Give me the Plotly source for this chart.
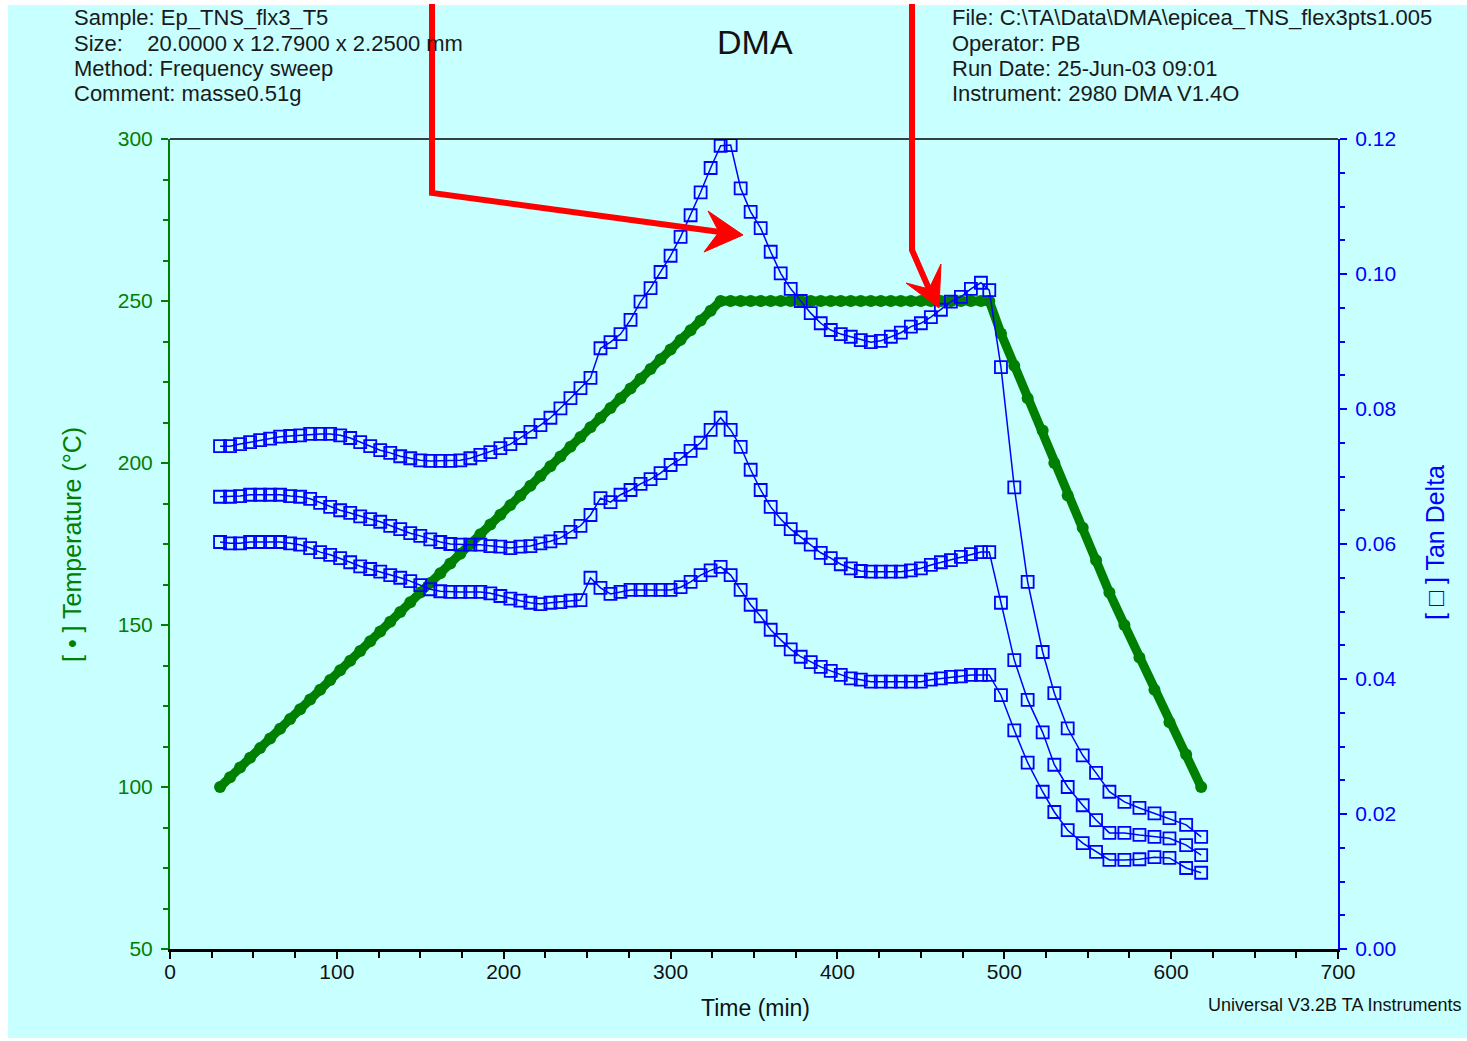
import plotly.graph_objects as go

# ---------------- data ----------------
time_min = [30, 36, 42, 48, 54, 60, 66, 72, 78, 84,
            90, 96, 102, 108, 114, 120, 126, 132, 138, 144,
            150, 156, 162, 168, 174, 180, 186, 192, 198, 204,
            210, 216, 222, 228, 234, 240, 246, 252, 258, 264,
            270, 276, 282, 288, 294, 300, 306, 312, 318, 324, 330,
            336, 342, 348, 354, 360, 366, 372, 378, 384, 390,
            396, 402, 408, 414, 420, 426, 432, 438, 444, 450,
            456, 462, 468, 474, 480, 486,
            491,
            498, 506, 514, 523, 530, 538, 547, 555, 563, 572, 581, 590, 599, 609, 618]

temperature_c = [100, 103, 106, 109, 112, 115, 118, 121, 124, 127,
                 130, 133, 136, 139, 142, 145, 148, 151, 154, 157,
                 160, 163, 166, 169, 172, 175, 178, 181, 184, 187,
                 190, 193, 196, 199, 202, 205, 208, 211, 214, 217,
                 220, 223, 226, 229, 232, 235, 238, 241, 244, 247, 250,
                 250, 250, 250, 250, 250, 250, 250, 250, 250, 250,
                 250, 250, 250, 250, 250, 250, 250, 250, 250, 250,
                 250, 250, 250, 250, 250, 250,
                 250,
                 240, 230, 220, 210, 200, 190, 180, 170, 160, 150, 140, 130, 120, 110, 100]

tan_delta_a = [0.0745, 0.0745, 0.0748, 0.0751, 0.0754, 0.0756, 0.0759, 0.0760, 0.0761, 0.0763,
               0.0763, 0.0763, 0.0761, 0.0757, 0.0751, 0.0745, 0.0739, 0.0735, 0.0730, 0.0727,
               0.0724, 0.0723, 0.0723, 0.0723, 0.0724, 0.0727, 0.0732, 0.0736, 0.0742, 0.0748,
               0.0757, 0.0766, 0.0776, 0.0787, 0.0801, 0.0816, 0.0831, 0.0846, 0.0890, 0.0899,
               0.0911, 0.0932, 0.0959, 0.0979, 0.1003, 0.1027, 0.1055, 0.1087, 0.1121, 0.1157, 0.1190,
               0.1191, 0.1127, 0.1092, 0.1068, 0.1033, 0.1001, 0.0978, 0.0960, 0.0942, 0.0927,
               0.0917, 0.0911, 0.0907, 0.0902, 0.0899, 0.0901, 0.0907, 0.0913, 0.0922, 0.0927,
               0.0936, 0.0947, 0.0959, 0.0966, 0.0978, 0.0987,
               0.0976,
               0.0862, 0.0684, 0.0544, 0.0440, 0.0379, 0.0327, 0.0287, 0.0261, 0.0233, 0.0218,
               0.0209, 0.0201, 0.0194, 0.0184, 0.0166]

tan_delta_b = [0.0670, 0.0670, 0.0671, 0.0673, 0.0673, 0.0673, 0.0673, 0.0671, 0.0670, 0.0667,
               0.0661, 0.0655, 0.0650, 0.0646, 0.0641, 0.0637, 0.0633, 0.0627, 0.0622, 0.0616,
               0.0612, 0.0607, 0.0603, 0.0600, 0.0599, 0.0599, 0.0599, 0.0597, 0.0596, 0.0594,
               0.0596, 0.0597, 0.0601, 0.0604, 0.0609, 0.0618, 0.0627, 0.0643, 0.0668, 0.0662,
               0.0673, 0.0680, 0.0689, 0.0696, 0.0705, 0.0717, 0.0726, 0.0738, 0.0750, 0.0769, 0.0787,
               0.0769, 0.0744, 0.0710, 0.0680, 0.0655, 0.0637, 0.0622, 0.0610, 0.0599, 0.0587,
               0.0579, 0.0570, 0.0564, 0.0560, 0.0559, 0.0559, 0.0559, 0.0559, 0.0561, 0.0564,
               0.0569, 0.0573, 0.0576, 0.0581, 0.0585, 0.0588,
               0.0588,
               0.0513, 0.0428, 0.0369, 0.0321, 0.0273, 0.0240, 0.0213, 0.0191, 0.0172, 0.0172,
               0.0169, 0.0166, 0.0164, 0.0154, 0.0139]

tan_delta_c = [0.0603, 0.0601, 0.0601, 0.0603, 0.0603, 0.0603, 0.0603, 0.0601, 0.0599, 0.0594,
               0.0588, 0.0584, 0.0579, 0.0573, 0.0567, 0.0563, 0.0559, 0.0554, 0.0550, 0.0545,
               0.0539, 0.0533, 0.0530, 0.0529, 0.0529, 0.0529, 0.0529, 0.0527, 0.0523, 0.0519,
               0.0516, 0.0513, 0.0511, 0.0513, 0.0514, 0.0516, 0.0517, 0.0550, 0.0535, 0.0526,
               0.0529, 0.0532, 0.0532, 0.0532, 0.0532, 0.0532, 0.0536, 0.0544, 0.0554, 0.0561, 0.0566,
               0.0554, 0.0532, 0.0510, 0.0493, 0.0473, 0.0458, 0.0444, 0.0433, 0.0425, 0.0418,
               0.0412, 0.0406, 0.0401, 0.0399, 0.0396, 0.0396, 0.0396, 0.0396, 0.0396, 0.0396,
               0.0399, 0.0401, 0.0403, 0.0404, 0.0406, 0.0406,
               0.0406,
               0.0376, 0.0324, 0.0276, 0.0233, 0.0203, 0.0176, 0.0157, 0.0144, 0.0132, 0.0132,
               0.0133, 0.0136, 0.0135, 0.0120, 0.0113]

x_ticks = [0, 100, 200, 300, 400, 500, 600, 700]
temp_ticks = [50, 100, 150, 200, 250, 300]
tan_ticks = [0.00, 0.02, 0.04, 0.06, 0.08, 0.10, 0.12]

header_left = ["Sample: Ep_TNS_flx3_T5",
               "Size:\u00a0\u00a0\u00a0 20.0000 x 12.7900 x 2.2500 mm",
               "Method: Frequency sweep",
               "Comment: masse0.51g"]
header_right = ["File: C:\\TA\\Data\\DMA\\epicea_TNS_flex3pts1.005",
                "Operator: PB",
                "Run Date: 25-Jun-03 09:01",
                "Instrument: 2980 DMA V1.4O"]

# ---------------- styling ----------------
GREEN = "#008000"
BLUE = "#0000FF"
RED = "#FF0000"
BG = "#C8FFFF"
FONT = "Liberation Sans, Arial, sans-serif"

W, H = 1467, 1041
L, R, T, B = 170, 129, 139, 92
PW, PH = W - L - R, H - T - B


def PX(x):
    return (x - L) / PW


def PY(y):
    return (H - B - y) / PH


fig = go.Figure()

fig.add_trace(go.Scatter(
    x=time_min, y=temperature_c, mode="lines+markers", yaxis="y",
    line=dict(color=GREEN, width=9),
    marker=dict(symbol="circle", size=12, color=GREEN),
    showlegend=False, hoverinfo="skip"))

for series in (tan_delta_a, tan_delta_b, tan_delta_c):
    fig.add_trace(go.Scatter(
        x=time_min, y=series, mode="lines+markers", yaxis="y2",
        line=dict(color=BLUE, width=1.5),
        marker=dict(symbol="square-open", size=12, color=BLUE, line=dict(width=1.8, color=BLUE)),
        showlegend=False, hoverinfo="skip"))

shapes = []
# background card
shapes.append(dict(type="rect", xref="paper", yref="paper", layer="below",
                   x0=PX(8), x1=PX(1467), y0=PY(1038), y1=PY(5),
                   fillcolor=BG, line=dict(width=0)))
# top border
shapes.append(dict(type="line", xref="paper", yref="paper", layer="above",
                   x0=0, x1=1, y0=1, y1=1, line=dict(color="#000000", width=1.5)))


def poly(points, **kw):
    d = "M " + " L ".join(f"{PX(x):.5f},{PY(y):.5f}" for x, y in points)
    return dict(type="path", xref="paper", yref="paper", layer="above", path=d, **kw)


# red arrows
shapes.append(poly([(432, 4), (432, 193), (720, 232)], line=dict(color=RED, width=6)))
shapes.append(poly([(743, 235), (708, 211), (719, 232), (704, 252), (743, 235)],
                   fillcolor=RED, line=dict(color=RED, width=1)))
shapes.append(poly([(912, 4), (912, 250), (929, 289)], line=dict(color=RED, width=6)))
shapes.append(poly([(939, 308), (906, 283), (929, 289), (941, 264), (939, 308)],
                   fillcolor=RED, line=dict(color=RED, width=1)))

annotations = []
for i, txt in enumerate(header_left):
    annotations.append(dict(text=txt, x=PX(72), y=PY(18 + 25.3 * i), xref="paper", yref="paper",
                            xanchor="left", yanchor="middle", showarrow=False,
                            font=dict(family=FONT, size=22, color="#1a1a1a")))
for i, txt in enumerate(header_right):
    annotations.append(dict(text=txt, x=PX(950), y=PY(18 + 25.3 * i), xref="paper", yref="paper",
                            xanchor="left", yanchor="middle", showarrow=False,
                            font=dict(family=FONT, size=22, color="#1a1a1a")))
annotations.append(dict(text="DMA", x=PX(755), y=PY(42), xref="paper", yref="paper",
                        xanchor="center", yanchor="middle", showarrow=False,
                        font=dict(family=FONT, size=34, color="#111111")))
annotations.append(dict(text="[ \u2022 ] Temperature (\u00b0C)", x=PX(72), y=PY(545),
                        xref="paper", yref="paper", textangle=-90,
                        xanchor="center", yanchor="middle", showarrow=False,
                        font=dict(family=FONT, size=25, color=GREEN)))
annotations.append(dict(text="[ \u25a1 ] Tan Delta", x=PX(1435), y=PY(543),
                        xref="paper", yref="paper", textangle=-90,
                        xanchor="center", yanchor="middle", showarrow=False,
                        font=dict(family=FONT, size=25, color=BLUE)))
annotations.append(dict(text="Time (min)", x=PX(755), y=PY(1008), xref="paper", yref="paper",
                        xanchor="center", yanchor="middle", showarrow=False,
                        font=dict(family=FONT, size=23, color="#111111")))
annotations.append(dict(text="Universal V3.2B TA Instruments", x=PX(1463), y=PY(1005),
                        xref="paper", yref="paper", xanchor="right", yanchor="middle",
                        showarrow=False, font=dict(family=FONT, size=18, color="#111111")))

fig.update_layout(
    width=W, height=H,
    margin=dict(l=L, r=R, t=T, b=B, pad=0),
    paper_bgcolor="#FFFFFF", plot_bgcolor="rgba(0,0,0,0)",
    font=dict(family=FONT),
    shapes=shapes, annotations=annotations,
    xaxis=dict(range=[0, 700], tickvals=x_ticks, ticktext=[str(v) for v in x_ticks],
               showgrid=False, zeroline=False, showline=True, linecolor="#000000", linewidth=3,
               ticks="outside", ticklen=7, tickwidth=1.5, tickcolor="#000000",
               ticklabelstandoff=-5,
               tickfont=dict(family=FONT, size=21, color="#111111"),
               minor=dict(ticks="outside", dtick=25, tick0=0, ticklen=6, tickwidth=1.5,
                          tickcolor="#000000", showgrid=False)),
    yaxis=dict(range=[50, 300], tickvals=temp_ticks, ticktext=[str(v) for v in temp_ticks],
               showgrid=False, zeroline=False, showline=True, linecolor=GREEN, linewidth=2,
               ticks="outside", ticklen=7, tickwidth=2, tickcolor=GREEN,
               ticklabelstandoff=4,
               tickfont=dict(family=FONT, size=21, color=GREEN),
               minor=dict(ticks="outside", dtick=12.5, tick0=50, ticklen=5, tickwidth=1.5,
                          tickcolor=GREEN, showgrid=False)),
    yaxis2=dict(range=[0, 0.12], overlaying="y", side="right", anchor="x",
                tickvals=tan_ticks, ticktext=[f"{v:.2f}" for v in tan_ticks],
                showgrid=False, zeroline=False, showline=True, linecolor=BLUE, linewidth=2,
                ticks="outside", ticklen=7, tickwidth=2, tickcolor=BLUE,
                ticklabelstandoff=4,
                tickfont=dict(family=FONT, size=21, color=BLUE),
                minor=dict(ticks="outside", dtick=0.005, tick0=0, ticklen=5, tickwidth=1.5,
                           tickcolor=BLUE, showgrid=False)),
)

fig.write_html("out.html")
